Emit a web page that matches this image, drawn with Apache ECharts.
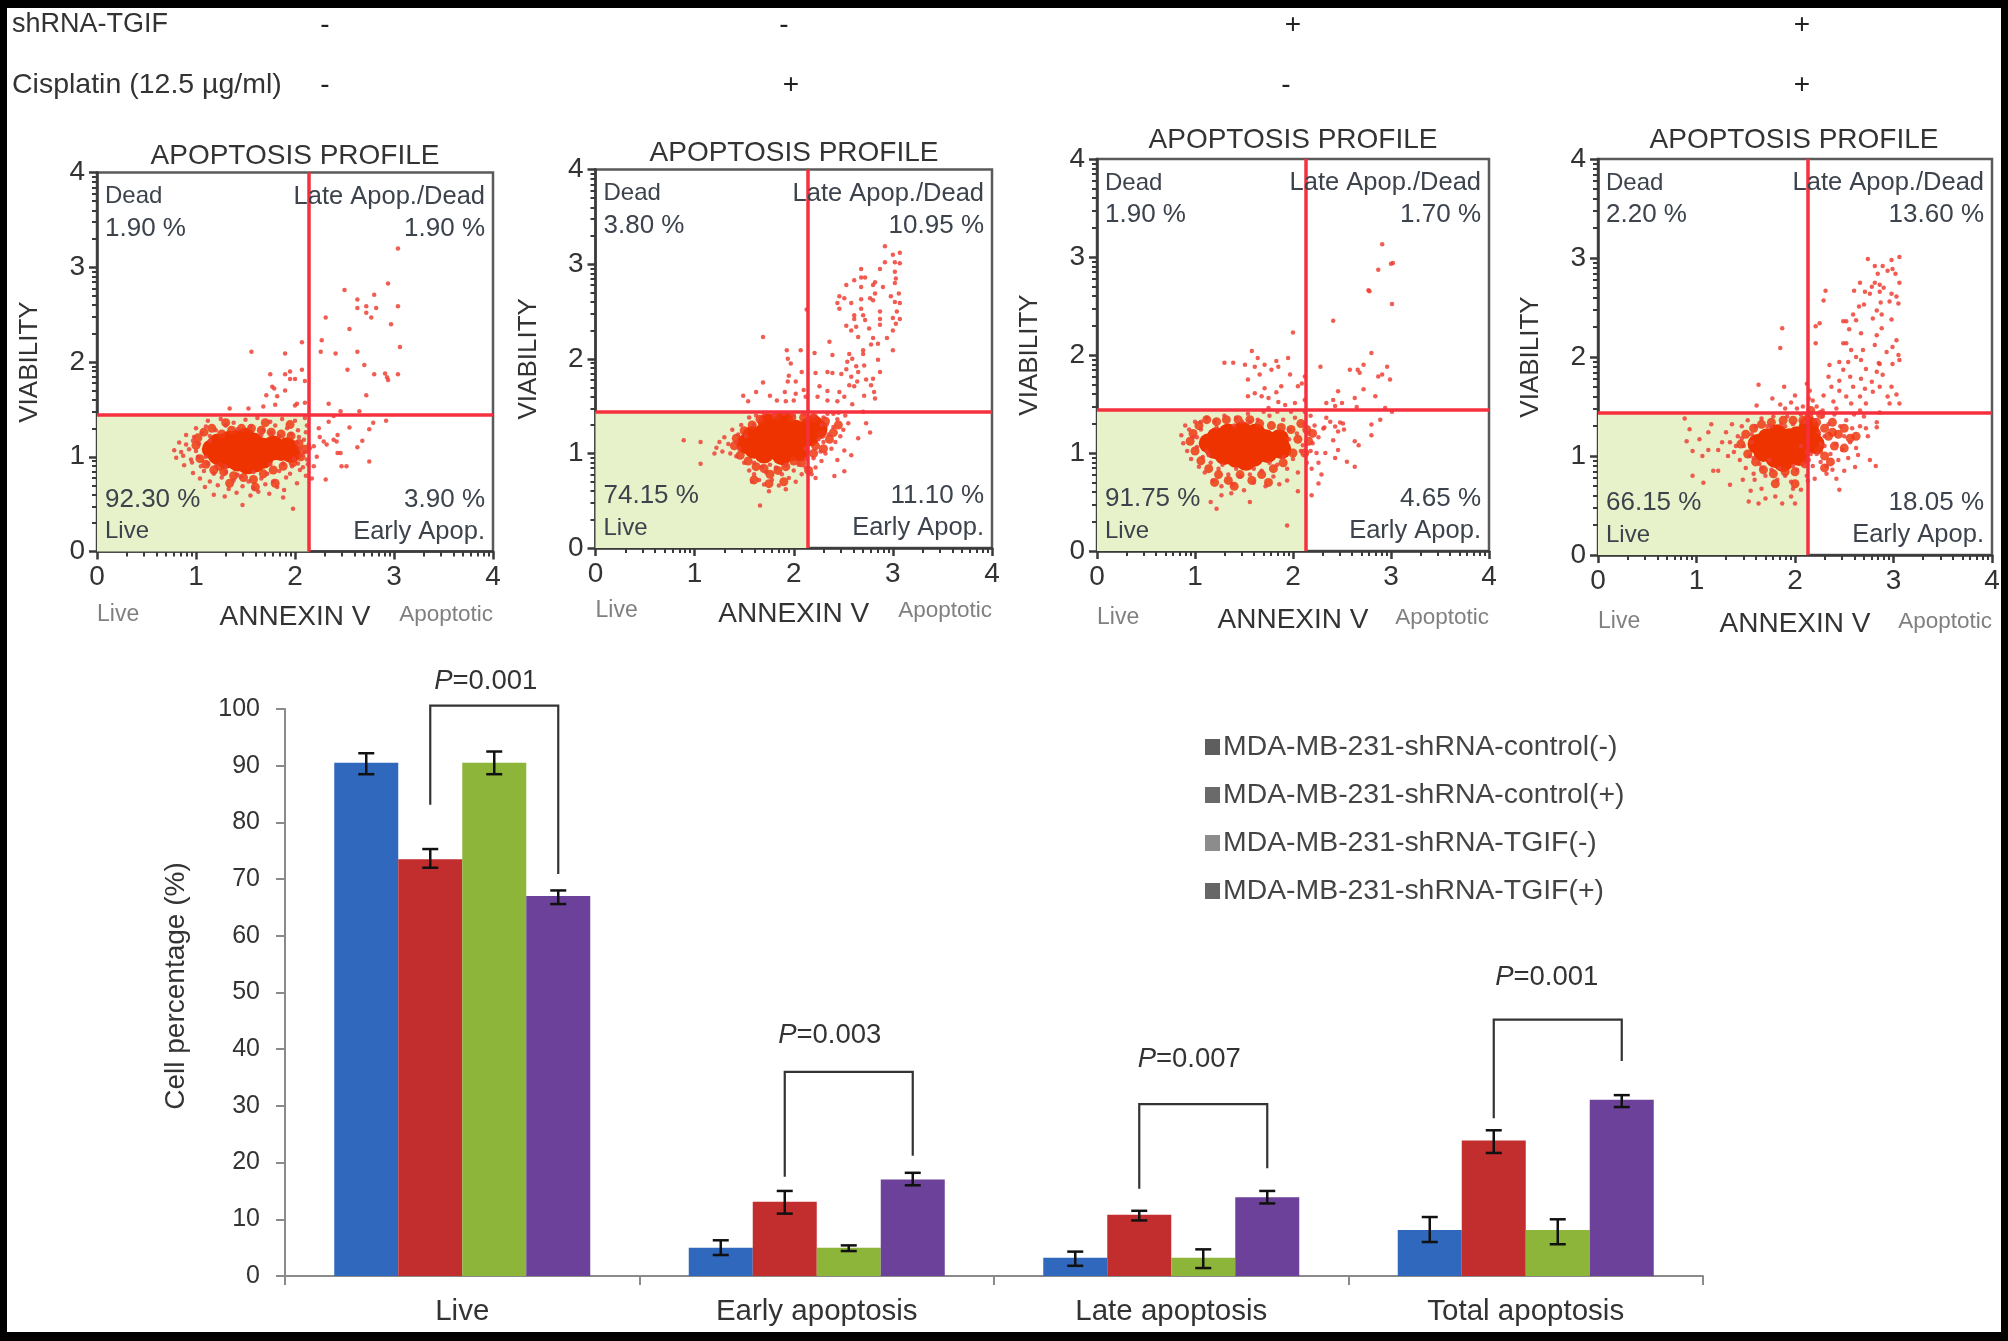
<!DOCTYPE html>
<html><head><meta charset="utf-8">
<style>html,body{margin:0;padding:0;background:#000;overflow:hidden}#c{width:2008px;height:1341px}</style>
<script src="https://cdn.jsdelivr.net/npm/echarts@6/dist/echarts.min.js"></script>
</head><body><div id="c"></div>
<script>
// ---------- bar chart data ----------
const categories = ['Live','Early apoptosis','Late apoptosis','Total apoptosis'];
const seriesNames = ['MDA-MB-231-shRNA-control(-)','MDA-MB-231-shRNA-control(+)','MDA-MB-231-shRNA-TGIF(-)','MDA-MB-231-shRNA-TGIF(+)'];
const controlNeg = [90.5,5.0,3.2,8.1];
const controlPos = [73.5,13.1,10.8,23.9];
const tgifNeg = [90.5,5.0,3.2,8.1];
const tgifPos = [67.0,17.0,13.9,31.1];
const controlNegLow = [88.5,3.7,1.8,6.0];
const controlNegHigh = [92.2,6.3,4.3,10.4];
const controlPosLow = [72.0,11.0,9.8,21.7];
const controlPosHigh = [75.3,15.0,11.5,25.7];
const tgifNegLow = [88.5,4.4,1.4,5.6];
const tgifNegHigh = [92.5,5.4,4.7,10.0];
const tgifPosLow = [65.6,16.0,12.8,29.8];
const tgifPosHigh = [68.0,18.2,15.0,31.9];
const pValues = ['0.001','0.003','0.007','0.001'];
const bracketTop = [100.6,36.0,30.3,45.2];
const bracketLeftEnd = [83.1,17.5,15.4,27.8];
const bracketRightEnd = [70.9,21.2,19.0,37.9];
const pLabelLevel = [104.9,42.5,38.2,52.6];

// ---------- flow cytometry panels ----------
const rowLabels = ['shRNA-TGIF','Cisplatin (12.5 µg/ml)'];
const shRnaSigns = ['-','-','+','+'];
const cisplatinSigns = ['-','+','-','+'];
const deadPct = ['1.90 %','3.80 %','1.90 %','2.20 %'];
const latePct = ['1.90 %','10.95 %','1.70 %','13.60 %'];
const livePct = ['92.30 %','74.15 %','91.75 %','66.15 %'];
const earlyPct = ['3.90 %','11.10 %','4.65 %','18.05 %'];
const quadrantX = [2.14,2.14,2.13,2.13];
const quadrantY = [1.44,1.44,1.44,1.44];
const logTicks = [0.301,0.477,0.602,0.699,0.778,0.845,0.903,0.954,1.301,1.477,1.602,1.699,1.778,1.845,1.903,1.954,2.301,2.477,2.602,2.699,2.778,2.845,2.903,2.954,3.301,3.477,3.602,3.699,3.778,3.845,3.903,3.954];

const core1 = [[1.16,1.08],[1.22,1.14],[1.22,1.02],[1.3,1.08],[1.3,.98],[1.34,1.17],[1.4,1.05],[1.42,1.18],[1.42,.95],[1.5,1.12],[1.5,1.2],[1.5,1.0],[1.52,.92],[1.58,1.15],[1.6,1.04],[1.6,.94],[1.66,1.1],[1.68,.98],[1.76,1.06],[1.78,1.12],[1.86,1.06],[1.92,1.1],[1.96,1.04]];
const mid1 = [[1.0,1.12],[1.02,1.2],[1.04,.98],[1.08,1.26],[1.1,.92],[1.16,1.3],[1.18,.86],[1.26,1.24],[1.28,.84],[1.36,1.28],[1.38,.8],[1.46,1.3],[1.48,.78],[1.56,1.3],[1.58,.76],[1.66,1.28],[1.68,.82],[1.76,1.26],[1.78,.86],[1.86,1.24],[1.88,.9],[1.96,1.22],[1.98,.94],[2.04,1.14],[2.06,1.0],[2.1,1.08],[1.24,.9],[1.34,.72],[1.6,.68],[1.8,.72],[1.3,1.36],[1.7,1.36],[1.95,1.34]];
const points1 = [[3.04,3.2],[2.94,2.83],[2.5,2.76],[2.8,2.71],[2.63,2.66],[2.72,2.59],[2.63,2.57],[2.82,2.57],[3.04,2.59],[2.72,2.52],[2.77,2.47],[2.31,2.47],[2.97,2.4],[2.55,2.35],[2.27,2.23],[2.07,2.21],[3.06,2.16],[1.56,2.11],[1.9,2.09],[2.26,2.11],[2.41,2.09],[2.63,2.11],[2.7,1.97],[2.53,1.92],[2.07,1.92],[1.95,1.9],[1.9,1.87],[1.75,1.87],[2.8,1.87],[2.91,1.88],[2.94,1.81],[2.93,1.84],[3.04,1.87],[1.95,1.82],[2.0,1.82],[2.1,1.8],[1.77,1.74],[1.79,1.72],[1.9,1.7],[1.82,1.64],[1.71,1.65],[2.72,1.65],[2.34,1.56],[2.02,1.56],[2.0,1.54],[2.1,1.57],[1.8,1.55],[1.68,1.53],[1.34,1.51],[1.53,1.51],[2.46,1.48],[2.65,1.48],[2.39,1.43],[2.34,1.37],[2.79,1.36],[2.92,1.38],[2.75,1.29],[2.55,1.31],[2.68,1.17],[2.63,1.1],[2.75,.95],[2.52,.9],[2.47,.9],[2.31,.76],[2.43,1.23],[2.42,1.16],[2.39,1.18],[2.29,1.16],[2.32,1.13],[2.43,1.04],[2.46,1.04],[2.24,1.3],[2.22,1.0],[2.19,1.11],[2.25,1.21],[2.19,.9],[2.17,.77],[1.98,.45],[1.47,.49],[1.88,.57],
[1.18,.6],[1.29,.58],[1.41,.62],[1.55,.59],[1.63,.63],[1.74,.61],[1.09,.68],[1.22,.7],[1.33,.66],[1.47,.69],[1.58,.67],[1.7,.71],[1.82,.68],[1.89,.65],[1.04,.77],[1.14,.74],[1.26,.78],[1.38,.75],[1.45,.79],[1.53,.74],[1.66,.77],[1.78,.74],[1.91,.78],[2.02,.72],[.97,.83],[1.08,.85],[1.18,.82],[1.3,.84],[1.42,.81],[1.58,.84],[1.72,.82],[1.84,.85],[1.95,.82],[2.05,.86],[2.11,.8],[.88,.91],[.96,.94],[1.05,.9],[1.12,.93],[1.97,.9],[2.03,.93],[2.08,.89],[2.13,.92],[.8,.99],[.87,1.01],[.95,.97],[1.02,1.0],[1.99,.98],[2.06,1.01],[2.12,.97],[.78,1.07],[.85,1.05],[.93,1.08],[1.0,1.06],[2.05,1.08],[2.1,1.05],[2.15,1.09],[.83,1.15],[.9,1.13],[.97,1.17],[1.03,1.14],[2.02,1.15],[2.09,1.18],[2.14,1.13],[.9,1.23],[.98,1.21],[1.06,1.25],[1.14,1.22],[1.96,1.24],[2.04,1.21],[2.11,1.26],[1.0,1.3],[1.1,1.32],[1.2,1.28],[1.3,1.33],[1.42,1.29],[1.55,1.32],[1.68,1.28],[1.8,1.33],[1.92,1.3],[2.03,1.28],[2.12,1.33],[1.12,1.38],[1.25,1.4],[1.38,1.36],[1.5,1.39],[1.62,1.41],[1.75,1.37],[1.87,1.4],[2.0,1.38],[2.1,1.41],[1.76,1.25],[1.84,1.22],[1.66,1.23],[1.3,.9],[1.2,.9],[1.75,.92],[1.88,.93],[1.14,1.17],[1.1,1.0]];

const core2 = [[1.52,1.1],[1.58,1.18],[1.6,1.05],[1.68,1.2],[1.68,1.12],[1.7,1.0],[1.76,1.26],[1.78,1.14],[1.8,1.04],[1.85,1.2],[1.86,1.1],[1.88,.98],[1.92,1.28],[1.95,1.15],[1.96,1.02],[2.02,1.25],[2.04,1.12],[2.06,1.02],[2.1,1.2],[2.16,1.28],[2.16,1.18],[2.2,1.3],[2.24,1.26],[1.74,1.32],[1.9,1.34]];
const mid2 = [[1.4,1.08],[1.42,1.16],[1.46,.98],[1.5,1.24],[1.54,.92],[1.58,1.3],[1.62,.86],[1.66,1.36],[1.7,.84],[1.76,.78],[1.84,.82],[1.82,1.4],[1.92,.86],[1.98,1.38],[2.0,.92],[2.08,.9],[2.1,1.38],[2.2,1.0],[2.22,1.08],[2.28,1.2],[2.3,1.05],[2.36,1.15],[2.2,1.38],[2.32,1.34],[2.4,1.22],[1.6,.72],[1.9,.7],[2.15,.82],[1.75,.68],[2.45,1.3]];
const points2 = [[2.92,3.19],[3.07,3.12],[3.0,3.1],[2.92,3.02],[3.02,3.02],[3.07,3.01],[2.87,2.95],[2.68,2.95],[3.02,2.92],[3.03,2.85],[2.61,2.83],[2.68,2.86],[2.72,2.86],[2.82,2.81],[2.8,2.78],[2.53,2.78],[2.68,2.76],[3.02,2.8],[2.9,2.76],[2.82,2.69],[3.06,2.69],[2.46,2.66],[2.77,2.64],[2.8,2.62],[2.68,2.63],[2.98,2.66],[3.02,2.6],[3.07,2.59],[2.44,2.59],[2.51,2.64],[2.58,2.59],[2.46,2.53],[2.68,2.53],[2.87,2.5],[3.04,2.5],[2.61,2.46],[2.7,2.46],[2.87,2.42],[3.0,2.43],[3.07,2.42],[2.61,2.42],[2.72,2.41],[3.03,2.37],[2.53,2.35],[2.87,2.36],[2.63,2.34],[2.76,2.32],[2.58,2.3],[3.0,2.3],[2.65,2.23],[2.8,2.22],[2.94,2.22],[1.69,2.23],[2.36,2.18],[2.85,2.16],[2.78,2.15],[2.7,2.09],[1.93,2.09],[2.07,2.09],[2.21,2.06],[3.0,2.09],[2.56,2.05],[2.7,2.05],[2.39,2.04],[1.94,2.0],[1.97,1.95],[2.59,2.0],[2.85,1.99],[2.54,1.97],[2.71,1.93],[2.63,1.92],[2.53,1.89],[2.34,1.86],[2.22,1.85],[2.39,1.85],[2.48,1.84],[2.65,1.86],[2.87,1.86],[2.58,1.81],[2.8,1.79],[1.95,1.82],[2.08,1.86],[1.69,1.75],[1.94,1.76],[2.02,1.76],[2.73,1.78],[2.64,1.76],[2.56,1.72],[2.78,1.72],[1.62,1.65],[1.91,1.65],[2.02,1.63],[2.1,1.67],[2.26,1.71],[2.34,1.66],[2.46,1.65],[2.61,1.71],[2.71,1.61],[2.81,1.65],[1.49,1.61],[1.54,1.55],[1.76,1.61],[1.83,1.56],[1.92,1.55],[2.0,1.56],[2.12,1.6],[2.24,1.6],[2.34,1.56],[2.44,1.55],[2.59,1.52],[2.82,1.58],[2.51,1.6],[2.7,1.44],[2.45,1.43],[2.73,1.32],[2.77,1.22],[2.65,1.16],[2.58,.98],[2.51,1.03],[2.44,.93],[2.51,.81],[2.41,.76],[2.22,.74],[1.06,1.12],[.89,1.14],[1.06,.89],[1.66,.45],[2.13,2.52],
[1.28,1.02],[1.34,1.1],[1.3,1.17],[1.42,.97],[1.38,1.25],[1.45,1.05],[1.47,1.3],[1.5,.9],[1.52,1.18],[1.55,1.38],[1.55,.82],[1.6,.78],[1.62,1.4],[1.65,.72],[1.58,.7],[1.7,.67],[1.72,.8],[1.75,.6],[1.78,.72],[1.82,.85],[1.85,.66],[1.88,.78],[1.92,.62],[1.95,.74],[2.0,.82],[2.02,.7],[2.08,.78],[2.12,.85],[2.05,.88],[2.18,.78],[2.22,.85],[2.28,.92],[2.2,.95],[2.32,1.0],[2.38,1.05],[2.27,1.02],[2.42,1.12],[2.3,1.12],[2.47,1.18],[2.35,1.2],[2.5,1.25],[2.4,1.28],[2.55,1.32],[2.44,1.36],[2.3,1.38],[2.52,1.4],[2.4,1.42],[2.2,1.4],[2.28,1.3],[2.34,1.42],[1.7,1.42],[1.8,1.4],[1.9,1.42],[2.0,1.4],[2.1,1.42],[1.44,1.2],[1.36,1.0],[1.42,1.12],[1.25,1.12],[1.22,1.06],[1.2,1.0],[1.6,.9],[1.68,.86],[1.76,.88],[1.92,.88],[2.12,.94],[2.25,1.15],[2.12,1.05],[2.33,1.3],[1.6,1.3],[1.66,1.36]];

const core3 = [[1.14,1.1],[1.2,1.04],[1.22,1.16],[1.28,1.1],[1.3,.98],[1.34,1.2],[1.38,1.06],[1.42,.95],[1.44,1.16],[1.48,1.22],[1.5,1.04],[1.52,.92],[1.56,1.14],[1.6,.96],[1.62,1.2],[1.66,1.06],[1.72,1.14],[1.74,1.0],[1.8,1.1],[1.86,1.14],[1.88,1.04]];
const mid3 = [[.95,1.12],[.98,1.2],[1.0,1.02],[1.04,1.28],[1.06,.92],[1.12,1.34],[1.14,.84],[1.22,1.32],[1.24,.78],[1.32,1.34],[1.34,.72],[1.44,1.34],[1.46,.78],[1.56,1.34],[1.58,.72],[1.66,1.3],[1.68,.78],[1.78,1.28],[1.8,.84],[1.88,1.26],[1.9,.9],[1.98,1.24],[2.0,1.0],[2.05,1.14],[2.08,1.3],[2.14,1.24],[2.16,1.12],[2.2,1.2],[2.12,1.0],[1.2,.7],[1.4,.66],[1.75,.7]];
const points3 = [[2.91,3.13],[3.0,2.93],[3.02,2.94],[2.87,2.87],[2.77,2.66],[2.78,2.65],[3.01,2.52],[2.41,2.35],[2.0,2.23],[1.58,2.04],[2.8,2.02],[1.64,1.97],[1.83,1.94],[1.95,1.97],[1.3,1.92],[1.39,1.92],[1.51,1.9],[1.71,1.9],[1.61,1.88],[1.85,1.88],[1.78,1.85],[2.28,1.88],[2.72,1.9],[2.58,1.85],[2.66,1.85],[2.68,1.82],[2.96,1.88],[2.91,1.8],[2.87,1.78],[2.99,1.75],[1.66,1.8],[1.97,1.8],[1.54,1.75],[2.12,1.78],[2.09,1.71],[2.05,1.68],[1.88,1.68],[1.71,1.66],[1.83,1.62],[2.46,1.63],[2.72,1.65],[1.54,1.58],[1.61,1.61],[1.68,1.58],[1.75,1.56],[1.85,1.52],[2.02,1.51],[2.12,1.54],[2.63,1.56],[2.84,1.58],[2.34,1.51],[2.41,1.54],[2.5,1.51],[2.43,1.48],[2.65,1.47],[1.75,1.46],[1.92,1.49],[2.94,1.46],[3.01,1.42],[2.89,1.34],[2.8,1.29],[2.8,1.18],[2.63,1.12],[2.67,1.08],[2.55,.91],[2.63,.86],[2.46,1.03],[2.43,.95],[2.48,1.31],[2.51,1.3],[2.43,1.27],[2.52,1.24],[2.46,1.22],[2.31,1.25],[2.32,1.26],[2.34,1.36],[2.38,1.32],[2.41,1.13],[2.33,1.0],[2.26,.9],[2.19,.84],[2.29,.78],[2.26,.69],[2.19,.57],[2.05,.61],[1.94,.26],[1.56,.5],[1.22,.43],[1.16,.5],[1.37,.59],[1.27,.57],
[.88,1.1],[.86,1.18],[.92,1.02],[.9,1.28],[.96,.94],[.98,1.16],[1.0,1.32],[1.02,1.06],[1.04,.86],[1.06,1.24],[1.08,.96],[1.1,.8],[1.12,1.36],[1.16,.9],[1.18,.72],[1.2,1.32],[1.24,.84],[1.27,.66],[1.3,1.38],[1.34,.78],[1.38,.68],[1.42,1.36],[1.46,.76],[1.5,.62],[1.54,1.4],[1.56,.78],[1.6,.7],[1.64,1.34],[1.68,.82],[1.72,.66],[1.76,1.38],[1.8,.76],[1.84,.88],[1.86,.68],[1.9,1.34],[1.94,.84],[1.96,1.24],[2.0,.94],[2.02,1.36],[2.05,.8],[2.08,1.02],[2.12,1.3],[2.14,.9],[2.16,1.2],[2.2,1.1],[2.22,1.28],[2.24,1.0],[2.18,1.38],[2.26,1.16],[2.12,1.42],[1.98,1.42],[1.84,1.42],[1.7,1.42],[1.56,1.32],[1.4,1.28],[1.22,1.26],[1.12,1.02],[1.9,.96],[1.02,1.16],[1.14,.98],[1.76,.9],[1.6,.84],[1.42,.84],[1.28,.88],[2.04,1.2],[2.1,1.08],[2.18,1.02],[.94,1.24],[1.96,1.14],[1.06,1.32],[1.94,.72],[1.48,1.32]];

const core4 = [[1.62,1.12],[1.68,1.04],[1.72,1.18],[1.76,1.08],[1.8,.98],[1.82,1.22],[1.86,1.1],[1.88,.94],[1.92,1.02],[1.94,1.18],[1.98,1.08],[2.02,1.2],[2.04,1.0],[2.1,1.14],[2.14,1.3],[2.16,1.22],[2.2,1.12]];
const mid4 = [[1.45,1.12],[1.5,1.22],[1.52,1.02],[1.58,1.28],[1.6,.94],[1.66,1.32],[1.68,.86],[1.76,1.34],[1.78,.82],[1.88,1.36],[1.9,.84],[1.98,1.36],[2.0,.84],[2.08,1.36],[2.14,1.4],[2.1,.92],[2.22,1.34],[2.24,1.06],[2.3,1.28],[2.3,1.0],[2.38,1.34],[2.4,1.1],[2.44,1.22],[2.5,1.08],[2.5,1.28],[2.56,1.18],[2.16,1.46],[2.26,1.42],[1.8,.72],[2.0,.72],[2.3,.88],[2.36,.94],[2.62,1.2],[2.34,1.2],[2.38,1.24]];
const points4 = [[3.06,3.01],[2.74,2.99],[2.98,2.98],[2.81,2.92],[2.89,2.92],[2.99,2.89],[2.94,2.87],[3.02,2.84],[2.84,2.84],[3.06,2.75],[2.66,2.75],[2.81,2.75],[2.86,2.73],[2.78,2.71],[2.9,2.7],[2.6,2.67],[2.71,2.66],[2.31,2.67],[2.86,2.66],[2.76,2.64],[2.98,2.64],[3.03,2.61],[3.05,2.54],[2.96,2.56],[2.29,2.57],[2.87,2.55],[2.7,2.53],[2.65,2.51],[2.59,2.43],[2.83,2.47],[2.88,2.43],[2.98,2.38],[2.62,2.37],[2.49,2.36],[2.52,2.36],[2.79,2.39],[2.25,2.34],[2.21,2.31],[1.87,2.29],[2.55,2.28],[2.88,2.29],[2.67,2.24],[2.83,2.22],[3.03,2.17],[2.49,2.14],[2.52,2.14],[2.81,2.12],[2.99,2.1],[2.21,2.14],[1.85,2.09],[2.57,2.07],[2.69,2.07],[2.93,2.05],[3.05,2.02],[2.62,2.0],[2.54,1.95],[2.67,1.97],[2.85,1.94],[2.86,1.93],[2.99,1.93],[3.06,1.97],[2.35,1.92],[2.45,1.95],[2.72,1.88],[2.83,1.85],[2.49,1.87],[2.34,1.8],[2.56,1.8],[2.89,1.82],[2.67,1.78],[2.45,1.76],[2.78,1.75],[1.63,1.72],[1.89,1.7],[2.12,1.73],[2.37,1.7],[2.59,1.7],[2.71,1.68],[2.86,1.7],[2.98,1.7],[2.15,1.66],[2.45,1.66],[3.03,1.62],[2.79,1.65],[2.0,1.61],[2.29,1.61],[2.52,1.6],[2.66,1.6],[2.94,1.6],[1.77,1.58],[1.96,1.54],[1.85,1.52],[1.61,1.51],[2.18,1.56],[2.39,1.55],[2.57,1.53],[2.72,1.53],[2.96,1.53],[3.06,1.53],[2.86,1.44],[2.66,1.46],[2.83,1.34],[2.83,1.29],[2.72,1.28],[2.64,1.01],[2.76,.96],[2.82,.9],[2.61,.89],[2.5,.85],[2.42,.77],[2.45,.66],[2.32,.82],[2.2,.77],[.88,1.38],[.93,1.27],[1.15,1.32],[1.12,1.24],[1.03,1.17],[.9,1.15],[.96,1.05],[1.06,1.0],[1.12,1.06],[.96,.8],[1.07,.73],[1.34,.71],[1.17,.85],[1.22,.85],[1.47,.76],[1.59,.76],[1.55,.65],[1.66,.67],[1.53,.54],[1.63,.52],[1.7,.57],[1.8,.59],[1.87,.52],[1.96,.59],[2.0,.52],[2.06,.66],[1.98,.67],[2.13,.75],
[1.3,1.24],[1.34,1.14],[1.36,1.32],[1.38,1.04],[1.42,1.2],[1.44,.96],[1.46,1.3],[1.48,1.1],[1.5,.88],[1.52,1.36],[1.54,1.0],[1.56,1.22],[1.58,.82],[1.6,1.3],[1.64,.92],[1.66,1.38],[1.7,.8],[1.72,1.3],[1.76,.86],[1.78,1.4],[1.82,.76],[1.86,1.32],[1.9,.8],[1.92,1.4],[1.96,.74],[1.98,1.32],[2.02,.86],[2.06,1.42],[2.08,.92],[2.1,1.34],[2.12,.8],[2.18,.9],[2.2,1.36],[2.22,1.02],[2.24,1.24],[2.26,.94],[2.28,1.4],[2.3,1.1],[2.32,.9],[2.34,1.32],[2.36,1.02],[2.38,.86],[2.4,1.42],[2.42,1.12],[2.44,.96],[2.46,1.3],[2.48,1.06],[2.5,1.2],[2.52,1.36],[2.54,.98],[2.56,1.14],[2.58,1.28],[2.6,1.42],[2.62,1.08],[2.66,1.3],[2.7,1.4],[2.74,1.2],[2.28,1.46],[2.42,1.48],[2.08,1.5],[2.02,1.48],[2.22,1.5],[2.14,1.58],[1.9,1.48],[2.3,1.2],[2.26,1.12],[2.16,1.02],[2.14,.96],[1.46,1.18],[1.4,1.1],[1.56,1.14],[1.58,.98],[1.66,.88],[1.74,.96],[1.84,.88],[1.98,.9],[2.06,1.1],[2.12,1.04],[1.76,1.3],[1.9,1.3],[1.26,1.14],[1.22,1.06],[1.32,1.0]];

const corePoints = [core1,core2,core3,core4];
const midPoints = [mid1,mid2,mid3,mid4];
const panelPoints = [points1,points2,points3,points4];

// ---------- layout and styles ----------
const FONT = '"Liberation Sans",Arial,sans-serif';
const panels = [
  {l:97,t:172.6,r:493,b:551.5,titleX:290,titleY:151,nameGap:52},
  {l:595.5,t:169.6,r:992,b:548,titleX:789,titleY:148,nameGap:52},
  {l:1097,t:159,r:1489,b:551,titleX:1288,titleY:135,nameGap:55},
  {l:1598,t:159,r:1992,b:555,titleX:1789,titleY:135,nameGap:55}
];
const signX1 = [325,784,1293,1802];
const signX2 = [325,791,1286,1802];
const pLabelDx = [23.5,13,18,21];
const barW = 64;
const barColors = ['#2f68bc','#c22d2e','#8db53a','#6b4199'];
const legendColors = ['#5e5e5e','#6a6a6a','#8c8c8c','#666666'];
const INK = '#3c434c', AXIS = '#3a3a3a', RED = '#f6303c';

const grid = [], xAxis = [], yAxis = [], series = [], graphic = [], title = [];
graphic.push({type:'rect',silent:true,z:-100,shape:{x:7,y:8,width:1994,height:1324},style:{fill:'#fff'}});

function txt(x,y,text,size,fill,align){
  graphic.push({type:'text',silent:true,z:20,style:{x,y,text,fill:fill||INK,font:`${size}px ${FONT}`,textAlign:align||'left',textVerticalAlign:'middle'}});
}
txt(12,25,rowLabels[0],27,'#333');
txt(12,85,rowLabels[1],28.5,'#333');
signX1.forEach((x,i)=>txt(x,25,shRnaSigns[i],28,'#222','center'));
signX2.forEach((x,i)=>txt(x,85,cisplatinSigns[i],28,'#222','center'));

panels.forEach((p,i)=>{
  grid.push({left:p.l,top:p.t,width:p.r-p.l,height:p.b-p.t,show:true,borderColor:'#5a5a5a',borderWidth:2.5,backgroundColor:'#fff',containLabel:false});
  xAxis.push({gridIndex:i,type:'value',min:0,max:4,interval:1,position:'bottom',name:'ANNEXIN V',nameLocation:'middle',nameGap:p.nameGap,
    nameTextStyle:{fontFamily:FONT,fontSize:28,color:'#333'},
    axisLine:{show:true,onZero:false,lineStyle:{color:AXIS,width:2.5}},
    axisTick:{show:true,length:8,lineStyle:{color:AXIS,width:2.5}},
    axisLabel:{fontFamily:FONT,fontSize:28,color:'#333',margin:12,hideOverlap:false,showMinLabel:true,showMaxLabel:true},splitLine:{show:false}});
  yAxis.push({gridIndex:i,type:'value',min:0,max:4,interval:1,position:'left',name:'VIABILITY',nameLocation:'middle',nameGap:54,nameRotate:90,
    nameTextStyle:{fontFamily:FONT,fontSize:26,color:'#333'},
    axisLine:{show:true,onZero:false,lineStyle:{color:AXIS,width:2.5}},
    axisTick:{show:true,length:8,lineStyle:{color:AXIS,width:2.5}},
    axisLabel:{fontFamily:FONT,fontSize:28,color:'#333',margin:12,showMinLabel:true,showMaxLabel:true},splitLine:{show:false}});
});
panels.forEach((p,i)=>{
  xAxis.push({gridIndex:i,type:'value',min:0,max:4,position:'bottom',axisLine:{show:false,onZero:false},axisLabel:{show:false},splitLine:{show:false},
    axisTick:{show:true,length:5,customValues:logTicks,lineStyle:{color:AXIS,width:2}}});
  yAxis.push({gridIndex:i,type:'value',min:0,max:4,position:'left',axisLine:{show:false,onZero:false},axisLabel:{show:false},splitLine:{show:false},
    axisTick:{show:true,length:5,customValues:logTicks,lineStyle:{color:AXIS,width:2}}});
  title.push({text:'APOPTOSIS PROFILE',left:p.titleX,top:p.titleY,textAlign:'center',textVerticalAlign:'middle',textStyle:{fontFamily:FONT,fontSize:28,fontWeight:'normal',color:'#333'}});

  const qx = quadrantX[i], qy = quadrantY[i];
  series.push({type:'scatter',name:'core'+(i+1),xAxisIndex:i,yAxisIndex:i,silent:true,symbolSize:20,itemStyle:{color:'#ee3300',opacity:1},data:corePoints[i],z:3,animation:false,
    markArea:{silent:true,z:1,itemStyle:{color:'#e7f1ca'},data:[[{coord:[0,0]},{coord:[qx,qy]}]]}});
  series.push({type:'scatter',name:'dense'+(i+1),xAxisIndex:i,yAxisIndex:i,silent:true,symbolSize:9,itemStyle:{color:'#ee3a10',opacity:.85},data:midPoints[i],z:3,animation:false});
  series.push({type:'scatter',name:'events'+(i+1),xAxisIndex:i,yAxisIndex:i,silent:true,symbolSize:4.5,itemStyle:{color:'#ef3f35',opacity:.85},data:panelPoints[i],z:4,animation:false,
    markLine:{silent:true,z:6,symbol:'none',animation:false,label:{show:false},lineStyle:{color:RED,type:'solid',width:3.5},
      data:[[{coord:[qx,0]},{coord:[qx,4]}],[{coord:[0,qy]},{coord:[4,qy]}]]}});

  txt(p.l+8,p.t+24,'Dead',24);
  txt(p.l+8,p.t+56,deadPct[i],26);
  txt(p.r-8,p.t+24,'Late Apop./Dead',25.5,INK,'right');
  txt(p.r-8,p.t+56,latePct[i],26,INK,'right');
  txt(p.l+8,p.b-52,livePct[i],26);
  txt(p.l+8,p.b-20,'Live',24);
  txt(p.r-8,p.b-52,earlyPct[i],26,INK,'right');
  txt(p.r-8,p.b-20,'Early Apop.',25.5,INK,'right');
  const ly = p.b + (i<2?63:67);
  txt(p.l,ly,'Live',23,'#808080');
  txt(p.r,ly,'Apoptotic',22.5,'#808080','right');
});

// ---------- bar chart ----------
const barGrid = grid.length;
grid.push({left:285,right:305,top:709,bottom:65});
const barX = xAxis.length, barY = yAxis.length;
xAxis.push({gridIndex:barGrid,type:'category',data:categories,boundaryGap:true,
  axisLine:{show:true,lineStyle:{color:'#8a8a8a',width:2}},axisTick:{show:true,length:9,lineStyle:{color:'#8a8a8a',width:2}},
  axisLabel:{fontFamily:FONT,fontSize:29.5,color:'#333',margin:21,interval:0},splitLine:{show:false}});
yAxis.push({gridIndex:barGrid,type:'value',min:0,max:100,interval:10,name:'Cell percentage (%)',nameLocation:'middle',nameGap:95,nameRotate:90,
  nameTextStyle:{fontFamily:FONT,fontSize:28,color:'#333',padding:[0,0,0,13]},
  axisLine:{show:true,lineStyle:{color:'#8a8a8a',width:2}},axisTick:{show:true,length:9,lineStyle:{color:'#8a8a8a',width:2}},
  axisLabel:{fontFamily:FONT,fontSize:25,color:'#333',margin:25},splitLine:{show:false}});

const values = [controlNeg,controlPos,tgifNeg,tgifPos];
const lows = [controlNegLow,controlPosLow,tgifNegLow,tgifPosLow];
const highs = [controlNegHigh,controlPosHigh,tgifNegHigh,tgifPosHigh];
values.forEach((v,i)=>{
  series.push({type:'bar',name:seriesNames[i],xAxisIndex:barX,yAxisIndex:barY,data:v,barWidth:barW,barGap:'0%',itemStyle:{color:barColors[i]},silent:true,animation:false,z:2});
});
values.forEach((v,i)=>{
  series.push({type:'custom',xAxisIndex:barX,yAxisIndex:barY,silent:true,animation:false,z:5,clip:false,
    encode:{x:0,y:[1,2]},
    data:categories.map((c,k)=>[k,lows[i][k],highs[i][k]]),
    renderItem(params,api){
      const k = api.value(0);
      const x = api.coord([k,0])[0] + (i-1.5)*barW;
      const lo = api.coord([k,api.value(1)])[1], hi = api.coord([k,api.value(2)])[1];
      const st = {stroke:'#111',lineWidth:2.5,fill:null};
      return {type:'group',children:[
        {type:'line',shape:{x1:x,y1:lo,x2:x,y2:hi},style:st},
        {type:'line',shape:{x1:x-8,y1:lo,x2:x+8,y2:lo},style:st},
        {type:'line',shape:{x1:x-8,y1:hi,x2:x+8,y2:hi},style:st}]};
    }});
});
series.push({type:'custom',xAxisIndex:barX,yAxisIndex:barY,silent:true,animation:false,z:6,clip:false,
  encode:{x:0,y:[1,2,3,4]},
  data:categories.map((c,k)=>[k,bracketTop[k],bracketLeftEnd[k],bracketRightEnd[k],pLabelLevel[k]]),
  renderItem(params,api){
    const k = api.value(0), cx = api.coord([k,0])[0];
    const xl = cx - 0.5*barW, xr = cx + 1.5*barW;
    const yt = api.coord([k,api.value(1)])[1], yl = api.coord([k,api.value(2)])[1], yr = api.coord([k,api.value(3)])[1], yp = api.coord([k,api.value(4)])[1];
    return {type:'group',children:[
      {type:'polyline',shape:{points:[[xl,yl],[xl,yt],[xr,yt],[xr,yr]]},style:{stroke:'#333',lineWidth:2.2,fill:null}},
      {type:'text',style:{x:cx+pLabelDx[k],y:yp,text:'{i|P}{n|=' + pValues[k] + '}',align:'center',verticalAlign:'middle',
        rich:{i:{fontStyle:'italic',fontFamily:FONT,fontSize:27.5,fill:'#333'},n:{fontFamily:FONT,fontSize:27.5,fill:'#333'}}}}]};
  }});

const option = {
  backgroundColor:'#000',animation:false,
  title,grid,xAxis,yAxis,series,graphic,
  legend:{orient:'vertical',left:1200,top:728,icon:'rect',itemWidth:15,itemHeight:16,itemGap:20,selectedMode:false,
    textStyle:{fontFamily:FONT,fontSize:28.4,color:'#444',padding:[0,0,0,-2]},
    data:seriesNames.map((n,i)=>({name:n,itemStyle:{color:legendColors[i]}}))}
};
echarts.init(document.getElementById('c'),null,{renderer:'canvas'}).setOption(option);
</script></body></html>
